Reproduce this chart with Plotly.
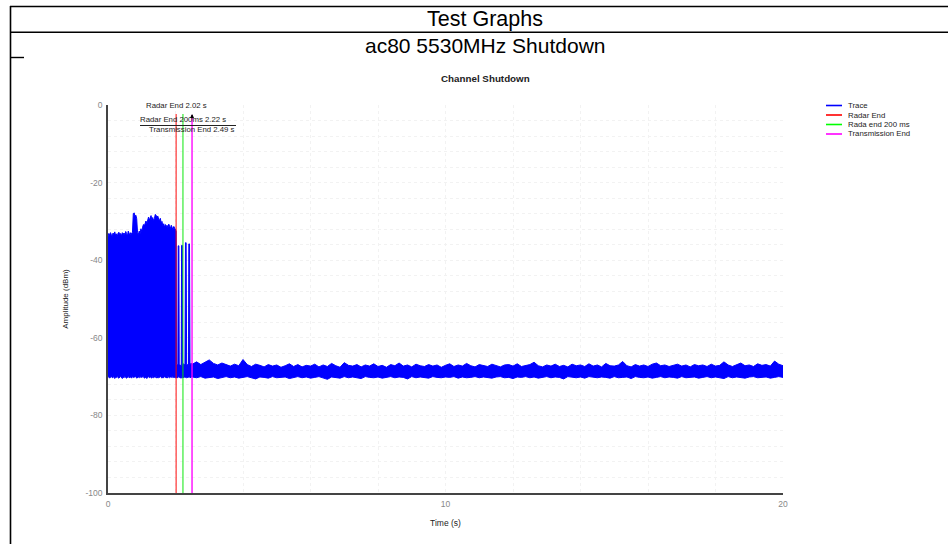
import numpy as np
import plotly.graph_objects as go

# ---------------- data ----------------
# active transmission before radar end (0 .. 2.00 s, 0.025 s steps)
pre_time = np.round(np.arange(0, 2.0001, 0.025), 3).tolist()
pre_upper = [-33.9, -33.1, -33.6, -32.9, -33.5, -33.8, -33.0, -33.4, -32.7, -33.6,
             -33.2, -33.9, -33.0, -32.8, -33.5, -33.1, -33.7, -32.9, -33.3, -33.0,
             -33.4, -32.6, -33.1, -33.8, -32.5, -33.0, -33.6, -32.9, -33.3, -32.8,
             -28.0, -27.8, -28.7, -28.4, -29.3,
             -32.9, -33.4, -32.5, -33.2, -31.9, -32.6,
             -31.5, -30.8, -31.2, -30.4, -29.9, -30.6, -29.4, -28.9, -29.7, -29.2,
             -28.5, -29.6, -29.0, -29.8, -29.3,
             -28.2, -28.4, -28.9, -28.6,
             -29.4, -29.8, -29.2, -30.3, -30.0, -31.2, -30.6, -31.5, -30.8, -31.3,
             -31.0, -31.7, -30.7, -31.4, -31.8, -31.0, -31.5, -32.1, -31.3, -31.8,
             -32.2]
pre_lower = [-70.2, -70.0, -70.4, -70.1, -69.9, -70.3, -70.2, -70.0, -70.5, -70.1,
             -70.2, -70.0, -70.3, -70.4, -70.1, -70.0, -70.2, -70.5, -70.1, -70.3,
             -70.0, -70.2, -70.4, -70.1, -70.0, -70.3, -70.2, -70.1, -70.4, -70.0,
             -70.2, -70.3, -70.1, -70.0, -70.4, -70.2, -70.1, -70.3, -70.0, -70.2,
             -70.3, -70.1, -70.0, -70.4, -70.2, -70.1, -70.5, -70.2, -70.0, -70.3,
             -70.1, -70.2, -70.4, -70.0, -70.3, -70.1, -70.2, -70.0, -70.4, -70.1,
             -70.3, -70.2, -70.0, -70.1, -70.4, -70.2, -70.3, -70.0, -70.2, -70.1,
             -70.4, -70.0, -70.2, -70.3, -70.1, -70.2, -70.0, -70.3, -70.1, -70.2,
             -70.3]

# residual bursts between radar end and transmission end
gap_time = [2.02, 2.03, 2.07, 2.08, 2.10, 2.11, 2.17, 2.18, 2.20, 2.21,
            2.28, 2.295, 2.315, 2.33, 2.385, 2.395, 2.415, 2.43, 2.47]
gap_upper = [-32.5, -66.8, -67.0, -36.3, -36.3, -66.9, -67.2, -36.2, -36.2, -66.6,
             -67.0, -35.5, -35.5, -66.8, -67.1, -35.8, -35.8, -66.9, -66.5]
gap_lower = [-70.2, -70.1, -70.3, -70.0, -70.2, -70.1, -70.4, -70.0, -70.2, -70.3,
             -70.1, -70.0, -70.2, -70.3, -70.1, -70.2, -70.0, -70.3, -70.1]

# noise floor after shutdown (2.5 .. 20 s, 0.125 s steps)
post_time = np.round(np.arange(2.5, 20.0001, 0.125), 3).tolist()
post_upper = [-66.8, -66.2, -66.9, -66.4, -65.7, -66.6, -67.0, -66.5, -66.9, -67.3,
              -66.8, -67.2, -65.6, -66.9, -67.4, -66.8, -67.1, -67.5, -66.9, -67.3,
              -67.0, -67.6, -67.2, -66.7, -67.4, -66.9, -67.5, -67.1, -67.3, -66.8,
              -67.5, -67.0, -67.4, -66.6, -67.2, -67.6, -66.4, -67.1, -67.3, -66.9,
              -67.5, -67.0, -67.3, -66.7, -67.4, -67.1, -67.6, -66.9, -67.2, -66.5,
              -67.3, -67.0, -67.5, -66.8, -67.2, -67.4, -66.9, -67.3, -67.0, -67.6,
              -67.1, -66.7, -67.4, -67.0, -67.3, -66.6, -67.2, -67.5, -66.9, -67.1,
              -67.4, -66.8, -67.2, -67.5, -67.0, -66.9, -67.3, -66.7, -67.4, -67.1,
              -66.9, -66.3, -67.2, -67.5, -67.0, -67.3, -66.8, -67.4, -67.1, -67.5,
              -66.8, -67.2, -67.0, -67.4, -66.7, -67.3, -67.0, -67.5, -66.6, -67.2,
              -67.3, -67.0, -66.1, -67.2, -67.5, -66.9, -67.3, -67.0, -67.4, -66.8,
              -66.5, -67.2, -67.0, -67.4, -67.1, -66.8, -67.3, -67.0, -67.5, -66.9,
              -67.2, -67.0, -67.4, -66.8, -67.3, -67.1, -66.2, -67.0, -67.4, -66.9,
              -66.5, -67.2, -67.0, -67.4, -66.7, -67.1, -66.9, -67.3, -66.0, -66.8,
              -67.2]
post_lower = [-70.1, -70.3, -70.0, -70.4, -70.2, -70.1, -70.5, -70.2, -70.0, -70.3,
              -70.1, -70.4, -70.2, -70.0, -70.3, -70.6, -70.1, -70.2, -70.4, -70.0,
              -70.3, -70.2, -70.1, -70.5, -70.2, -70.0, -70.3, -70.1, -70.4, -70.2,
              -70.0, -70.3, -70.7, -70.1, -70.2, -70.4, -70.0, -70.3, -70.1, -70.2,
              -70.5, -70.0, -70.2, -70.3, -70.1, -70.4, -70.2, -70.0, -70.3, -70.1,
              -70.2, -70.6, -70.0, -70.3, -70.1, -70.2, -70.4, -70.0, -70.2, -70.3,
              -70.1, -70.2, -70.0, -70.4, -70.1, -70.3, -70.2, -70.0, -70.3, -70.1,
              -70.2, -70.4, -70.1, -70.0, -70.3, -70.2, -70.5, -70.1, -70.2, -70.0,
              -70.3, -70.1, -70.4, -70.2, -70.0, -70.3, -70.1, -70.2, -70.6, -70.0,
              -70.2, -70.3, -70.1, -70.4, -70.0, -70.2, -70.3, -70.1, -70.2, -70.4,
              -70.0, -70.3, -70.2, -70.1, -70.5, -70.0, -70.2, -70.3, -70.1, -70.4,
              -70.2, -70.0, -70.3, -70.1, -70.2, -70.4, -70.0, -70.3, -70.2, -70.1,
              -70.4, -70.2, -70.0, -70.3, -70.1, -70.2, -70.5, -70.0, -70.3, -70.1,
              -70.2, -70.4, -70.1, -70.0, -70.3, -70.2, -70.1, -70.4, -70.2, -70.0,
              -70.2]

# event markers
marker_names = ["Radar End", "Rada end 200 ms", "Transmission End"]
marker_time = [2.02, 2.22, 2.49]
marker_top = [-2.3, -2.3, -2.6]
marker_colors = ["rgba(255,0,0,0.6)", "rgba(0,230,0,0.6)", "rgba(255,0,255,0.85)"]
marker_labels = ["Radar End 2.02 s", "Radar End 200ms 2.22 s", "Transmission End 2.49 s"]
marker_label_y = [0.0, -3.7, -6.3]

legend_names = ["Trace", "Radar End", "Rada end 200 ms", "Transmission End"]
legend_colors = ["#0000ff", "#ff0000", "#00ff00", "#ff00ff"]

# tick labels
x_tick_vals = [0, 10, 20]
x_tick_text = ["0", "10", "20"]
y_tick_vals = [0, -20, -40, -60, -80, -100]
y_tick_text = ["0", "-20", "-40", "-60", "-80", "-100"]

# ---------------- figure ----------------
W, H = 948, 544
L, R, T, B = 108, 783, 105, 493


def px_x(x):
    return (x - L) / (R - L)


def px_y(y):
    return 1 - (y - T) / (B - T)


upper_t = pre_time + gap_time + post_time
upper_v = pre_upper + gap_upper + post_upper
lower_v = pre_lower + gap_lower + post_lower
poly_x = upper_t + upper_t[::-1]
poly_y = upper_v + lower_v[::-1]

fig = go.Figure()
fig.add_trace(go.Scatter(
    x=poly_x, y=poly_y, mode="lines", fill="toself",
    fillcolor="#0000ff", line=dict(color="#0000ff", width=1),
    name="Trace", showlegend=False, hoverinfo="skip"))

for t, top, c, n in zip(marker_time, marker_top, marker_colors, marker_names):
    fig.add_trace(go.Scatter(
        x=[t, t], y=[top, -100], mode="lines",
        line=dict(color=c, width=1.6), name=n, showlegend=False))

annotations = []
for t, yv, txt in zip(marker_time, marker_label_y, marker_labels):
    annotations.append(dict(x=t, y=yv, xref="x", yref="y", text=txt,
                            showarrow=False, xanchor="center", yanchor="middle",
                            font=dict(family="Liberation Sans, Arial", size=7.8, color="#222")))
annotations.append(dict(x=marker_time[2], y=-2.3, xref="x", yref="y", text="",
                        showarrow=True, ax=0, ay=6, arrowhead=2, arrowsize=0.8,
                        arrowwidth=1, arrowcolor="#000"))

# headers
annotations += [
    dict(x=px_x(485), y=px_y(19), xref="paper", yref="paper", text="Test Graphs",
         showarrow=False, xanchor="center", yanchor="middle",
         font=dict(family="Liberation Sans, Arial", size=21.5, color="#000")),
    dict(x=px_x(485), y=px_y(45), xref="paper", yref="paper", text="ac80 5530MHz Shutdown",
         showarrow=False, xanchor="center", yanchor="middle",
         font=dict(family="Liberation Sans, Arial", size=21, color="#000")),
    dict(x=px_x(485.5), y=px_y(78), xref="paper", yref="paper", text="<b>Channel Shutdown</b>",
         showarrow=False, xanchor="center", yanchor="middle",
         font=dict(family="Liberation Sans, Arial", size=9.8, color="#222")),
]

shapes = [
    dict(type="line", xref="paper", yref="paper", x0=px_x(10), x1=px_x(948),
         y0=px_y(6.5), y1=px_y(6.5), line=dict(color="#000", width=1.6)),
    dict(type="line", xref="paper", yref="paper", x0=px_x(10), x1=px_x(948),
         y0=px_y(32.3), y1=px_y(32.3), line=dict(color="#000", width=1.6)),
    dict(type="line", xref="paper", yref="paper", x0=px_x(10.5), x1=px_x(10.5),
         y0=px_y(6), y1=px_y(544), line=dict(color="#000", width=1.6)),
    dict(type="line", xref="paper", yref="paper", x0=px_x(10), x1=px_x(24),
         y0=px_y(57.5), y1=px_y(57.5), line=dict(color="#000", width=1.4)),
    # underline under marker labels
    dict(type="line", xref="paper", yref="paper", x0=px_x(140), x1=px_x(236),
         y0=px_y(125.5), y1=px_y(125.5), line=dict(color="#222", width=1)),
]

# compact legend
leg_y = [105.5, 115, 124.5, 134]
for name, col, yy in zip(legend_names, legend_colors, leg_y):
    shapes.append(dict(type="line", xref="paper", yref="paper",
                       x0=px_x(826), x1=px_x(842), y0=px_y(yy), y1=px_y(yy),
                       line=dict(color=col, width=1.6)))
    annotations.append(dict(x=px_x(846), y=px_y(yy), xref="paper", yref="paper",
                            text=name, showarrow=False, xanchor="left", yanchor="middle",
                            font=dict(family="Liberation Sans, Arial", size=7.8, color="#222")))

grid_col = "#f2f2f2"
fig.update_layout(
    width=W, height=H,
    margin=dict(l=L, r=W - R, t=T, b=H - B),
    paper_bgcolor="white", plot_bgcolor="white",
    showlegend=False,
    font=dict(family="Liberation Sans, Arial", size=8.5, color="#888"),
    annotations=annotations, shapes=shapes,
    xaxis=dict(range=[0, 20], tickmode="array", tickvals=x_tick_vals, ticktext=x_tick_text,
               showgrid=True, gridcolor=grid_col, griddash="3px,3px", gridwidth=1,
               minor=dict(tick0=0, dtick=2, showgrid=True, gridcolor=grid_col,
                          griddash="3px,3px"),
               showline=True, linecolor="#444", linewidth=1.5, zeroline=False,
               ticks="", ticklabelstandoff=2,
               tickfont=dict(size=8.5, color="#888"),
               title=dict(text="Time (s)", standoff=12,
                          font=dict(size=8.5, color="#222"))),
    yaxis=dict(range=[-100, 0], tickmode="array", tickvals=y_tick_vals, ticktext=y_tick_text,
               showgrid=True, gridcolor=grid_col, griddash="3px,3px", gridwidth=1,
               minor=dict(tick0=0, dtick=4, showgrid=True, gridcolor=grid_col,
                          griddash="3px,3px"),
               showline=True, linecolor="#444", linewidth=1.5, zeroline=False,
               ticks="", ticklabelstandoff=2,
               tickfont=dict(size=8.5, color="#888"),
               title=dict(text="Amplitude (dBm)", standoff=16,
                          font=dict(size=8, color="#222"))),
)

fig.write_html("out.html", config={"displayModeBar": False},
               post_script="document.body.style.margin='0';")
